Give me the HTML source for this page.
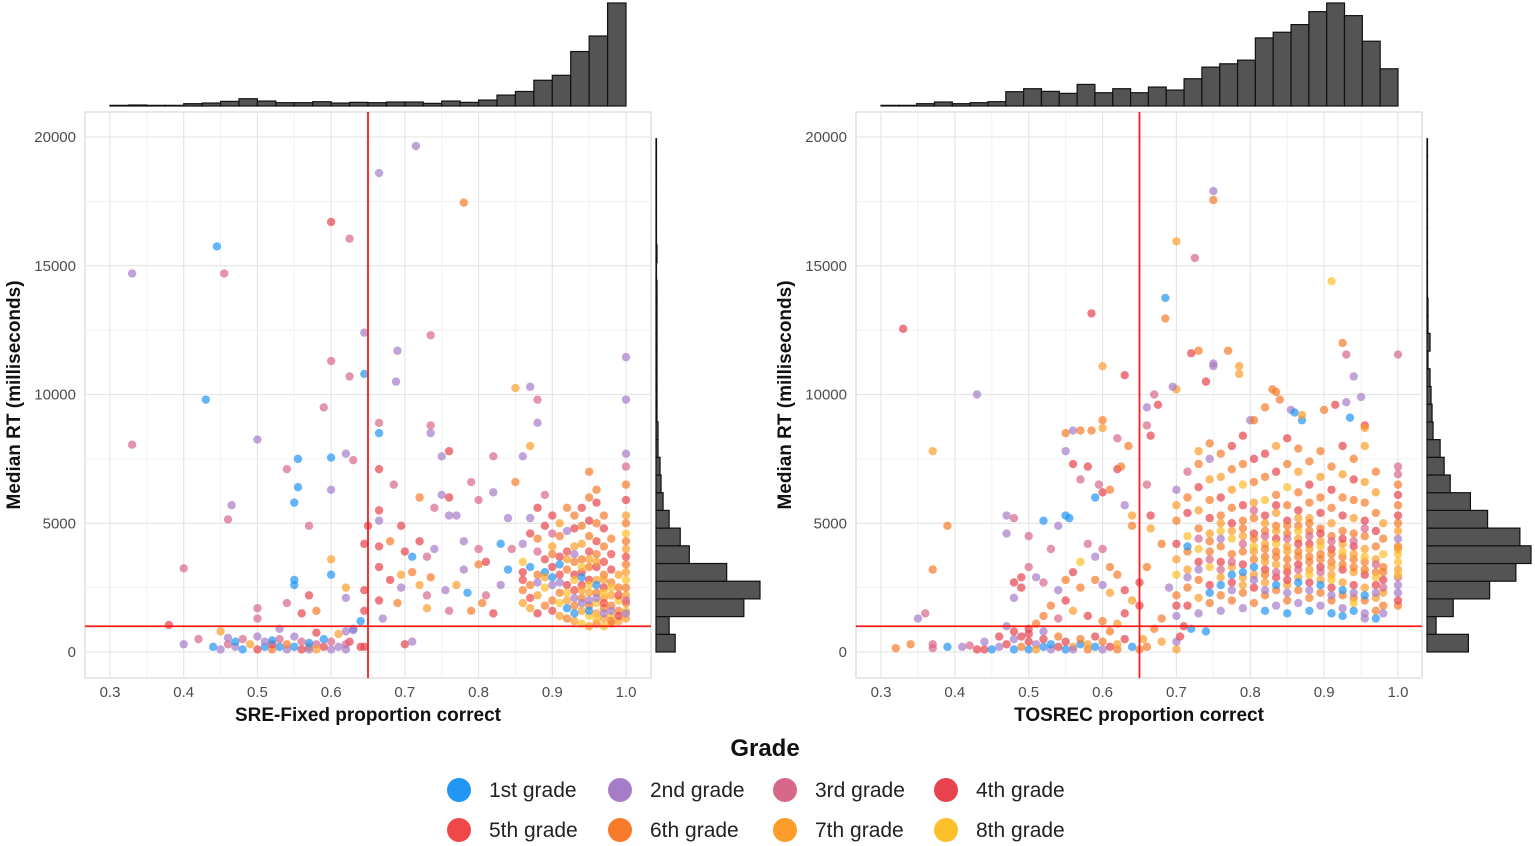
<!DOCTYPE html>
<html><head><meta charset="utf-8">
<style>
html,body{margin:0;padding:0;background:#fff;}
svg{display:block;font-family:"Liberation Sans",sans-serif;}
</style></head>
<body>
<svg id="chart" width="1535" height="846" viewBox="0 0 1535 846" xmlns="http://www.w3.org/2000/svg">
  <g id="leftPanel"></g>
  <g id="rightPanel"></g>
  <g id="legend">
    <text x="765" y="756" text-anchor="middle" font-size="24" font-weight="bold" fill="#111">Grade</text>
  </g>
</svg>
<script>
// ---- data ----
const gradeLabels = ["1st grade","2nd grade","3rd grade","4th grade","5th grade","6th grade","7th grade","8th grade"];
const gradeColors = ["#2196F3","#A57CC8","#D8688A","#E8434D","#F04848","#F77B2A","#FC9C2A","#FDBF2A"];
const xTicks = [0.3,0.4,0.5,0.6,0.7,0.8,0.9,1.0];
const xTickLabels = ["0.3","0.4","0.5","0.6","0.7","0.8","0.9","1.0"];
const yTicks = [0,5000,10000,15000,20000];
const yTickLabels = ["0","5000","10000","15000","20000"];
const cutX = 0.65;
const cutY = 1000;
const leftTopHist = [2,3,2,2,7,9,14,22,15,10,10,13,9,11,10,12,12,8,15,11,18,33,44,78,93,165,212,312];
const rightTopHist = [2,2,7,12,7,10,13,43,52,44,38,65,40,52,40,57,48,82,117,127,138,205,222,245,284,310,272,195,112];
const leftSideHist = [19,13,87,103,70,33,24,13,7,5,4,2,2,1,1,1,1,1,1,1,1,0.5,1,0.5,0.5,0.5,0.5,0.5,0.5];
const rightSideHist = [41,9,26,62,88,103,92,60,43,23,17,13,6,5,4,3,1,3,1,1,0.5,0.5,0.5,0.5,0.5,0.5,0.5,0.5,0.5];
// points grouped by proportion-correct value: [x, [[rt in thousands ms, grade], ...]]
const leftPoints = [
[0.33,[[14.7,2],[8.05,3]]],[0.445,[[15.75,1]]],[0.455,[[14.7,3]]],[0.43,[[9.8,1]]],[0.6,[[16.7,4],[11.3,3],[7.55,1],[6.3,2],[3.6,7],[3.0,1],[0.1,2],[0.4,3]]],
[0.625,[[16.05,3],[10.7,3],[0.4,4]]],[0.665,[[18.6,2],[8.9,3],[8.5,1],[7.1,4],[5.5,4],[3.3,4],[2.0,4],[4.1,4],[5.1,2]]],[0.715,[[19.65,2]]],[0.78,[[17.45,6]]],
[0.645,[[12.4,2],[10.8,1],[4.2,4],[2.4,4],[1.6,4],[0.2,4]]],[0.735,[[12.3,3],[8.8,3],[8.5,2],[2.9,6]]],[0.69,[[11.7,2],[1.9,6]]],[0.688,[[10.5,2]]],[0.59,[[9.5,3],[0.5,1],[0.2,4]]],
[0.5,[[8.25,2],[1.7,3],[1.3,3],[0.1,4],[0.6,2]]],[0.4,[[3.25,3],[0.3,2]]],[0.38,[[1.05,4]]],[0.555,[[7.5,1],[6.4,1]]],[0.62,[[7.7,2],[2.5,7],[2.1,2],[0.8,2],[0.3,3],[0.1,2]]],[0.63,[[7.45,3],[0.9,1],[0.85,2]]],
[0.54,[[7.1,3],[1.9,3],[0.1,2],[0.3,6]]],[0.465,[[5.7,2]]],[0.46,[[5.15,3],[0.3,3],[0.55,2]]],[0.55,[[5.8,1],[2.8,1],[2.6,1],[0.2,1],[0.6,2]]],
[0.7,[[0.3,4],[3.9,4]]],[0.685,[[6.5,3]]],[0.65,[[4.9,4]]],[0.67,[[1.3,2]]],[0.71,[[0.4,2],[3.7,1],[3.1,6]]],[0.695,[[2.5,2],[4.9,4],[3.0,7]]],[0.72,[[4.3,4],[2.6,7],[6.0,6]]],
[0.73,[[3.7,3],[1.7,7],[2.2,3]]],[0.74,[[5.6,3],[4.0,2]]],[0.75,[[6.1,2],[7.6,2]]],[0.76,[[5.3,2],[6.0,4],[7.8,4],[1.6,3]]],[0.77,[[5.3,2],[2.6,7]]],[0.78,[[4.3,2],[3.2,2]]],
[0.79,[[6.6,3],[1.6,6]]],[0.8,[[4.0,3],[5.9,3],[3.4,6]]],[0.82,[[6.2,2],[7.6,3],[1.5,4]]],[0.83,[[4.2,1],[2.6,2]]],[0.81,[[3.5,4],[2.2,3]]],[0.84,[[5.2,2],[3.2,1]]],
[0.845,[[4.0,3]]],[0.85,[[6.6,6],[10.25,7]]],[0.87,[[10.3,2],[8.0,7]]],[0.88,[[9.8,3],[8.9,2]]],[0.68,[[4.3,6],[2.8,4]]],[0.755,[[2.4,2]]],[0.785,[[2.3,1]]],[0.805,[[1.9,6]]],
[0.64,[[1.2,1]]],[0.58,[[1.6,6],[0.3,3],[0.1,7],[0.75,4]]],[0.57,[[2.2,4],[4.9,3],[0.2,6],[0.1,2],[0.35,1]]],[0.56,[[1.5,4],[0.1,4],[0.4,3]]],[0.53,[[0.9,2],[0.2,1],[0.5,3]]],
[0.42,[[0.5,3]]],[0.44,[[0.2,1]]],[0.45,[[0.1,2],[0.8,7]]],[0.47,[[0.2,2],[0.4,1]]],[0.48,[[0.1,1],[0.5,3]]],[0.49,[[0.3,7]]],[0.51,[[0.2,1],[0.4,2]]],[0.52,[[0.1,6],[0.3,4],[0.45,1]]],
[0.61,[[0.2,2],[0.7,7]]],[0.64,[[0.2,4]]],
[0.86,[[2.4,6],[3.1,4],[1.9,7],[4.2,2],[2.8,5],[3.5,8],[7.6,2]]],
[0.87,[[1.7,7],[2.6,6],[3.3,1],[4.6,4],[2.1,5],[5.2,2]]],
[0.88,[[3.0,6],[2.2,7],[1.5,4],[3.9,3],[4.4,6],[2.7,2],[5.6,4]]],
[0.89,[[3.6,5],[2.5,8],[1.8,6],[3.1,1],[4.9,4],[2.9,7],[6.1,3]]],
[0.9,[[2.0,6],[3.3,4],[4.1,7],[2.6,2],[1.6,5],[3.8,6],[5.3,4],[2.9,1],[4.6,3]]],
[0.91,[[1.4,7],[2.3,6],[3.0,5],[3.7,4],[4.5,6],[2.7,2],[5.0,7],[1.9,8],[3.4,1]]],
[0.92,[[1.3,6],[2.0,7],[2.6,4],[3.2,6],[3.9,5],[4.7,2],[2.3,8],[5.6,6],[1.7,1],[3.6,7]]],
[0.93,[[1.2,7],[1.8,6],[2.4,5],[3.0,4],[3.5,6],[4.1,7],[4.8,4],[2.1,2],[2.8,8],[5.3,6],[1.5,1],[3.8,2]]],
[0.94,[[1.1,8],[1.6,7],[2.1,6],[2.6,4],[3.1,5],[3.6,6],[4.2,7],[4.9,6],[1.9,2],[2.9,1],[5.6,4],[3.3,8],[2.4,7]]],
[0.95,[[1.0,7],[1.4,8],[1.8,6],[2.3,7],[2.8,4],[3.3,6],[3.9,5],[4.5,6],[5.1,4],[6.0,6],[2.0,2],[2.6,8],[3.6,7],[1.6,1],[7.0,6]]],
[0.96,[[1.1,6],[1.5,7],[1.9,8],[2.3,6],[2.8,7],[3.3,4],[3.8,6],[4.3,5],[5.0,6],[5.8,4],[2.1,2],[1.3,8],[2.6,1],[3.5,7],[6.3,6]]],
[0.97,[[1.0,8],[1.3,7],[1.7,6],[2.1,7],[2.5,4],[3.0,6],[3.5,5],[4.1,6],[4.8,4],[1.5,2],[2.3,8],[2.8,7],[5.3,6],[1.9,5]]],
[0.98,[[1.1,7],[1.4,8],[1.8,6],[2.2,7],[2.7,6],[3.2,4],[3.8,5],[4.4,6],[1.6,2],[2.5,8],[1.2,6]]],
[0.99,[[1.2,7],[1.6,6],[2.0,8],[2.5,6],[3.0,7],[1.4,4],[2.2,5]]],
[1.0,[[1.3,7],[1.6,8],[1.9,6],[2.2,7],[2.5,6],[2.8,8],[3.1,7],[3.4,6],[3.7,5],[4.0,7],[4.3,6],[4.6,8],[5.0,6],[5.3,7],[5.9,4],[6.5,6],[7.2,3],[7.7,2],[9.8,2],[11.45,2],[1.5,2],[2.0,3]]]
];
const rightPoints = [
[0.33,[[12.55,4]]],[0.43,[[10.0,2]]],[0.37,[[7.8,7],[3.2,6],[0.3,3],[0.15,3]]],[0.39,[[4.9,6],[0.2,1]]],[0.35,[[1.3,2]]],[0.36,[[1.5,3]]],[0.32,[[0.15,6]]],[0.34,[[0.3,6]]],
[0.585,[[13.15,4],[8.6,6]]],[0.75,[[17.9,2],[17.55,6],[11.2,2],[11.1,2]]],[0.7,[[15.95,7],[10.2,7],[2.2,6],[3.0,8],[3.6,7],[4.2,4],[5.1,6],[5.7,7],[6.3,2],[1.8,4],[1.4,2],[0.1,7],[0.4,2]]],
[0.725,[[15.3,3]]],[0.685,[[13.75,1],[12.95,6]]],[0.91,[[14.4,8]]],[0.925,[[12.0,6]]],[0.63,[[10.75,4],[5.7,2],[2.4,4],[1.5,4],[0.5,4]]],[0.6,[[11.1,7],[9.0,6],[8.7,7],[6.2,4],[4.0,3],[1.2,6],[2.6,2],[0.1,2],[0.4,6]]],
[0.73,[[11.7,6]]],[0.72,[[11.6,4],[0.9,1]]],[0.77,[[11.7,6]]],[0.785,[[11.1,7],[10.8,7]]],[0.74,[[10.5,4],[0.8,1]]],[0.695,[[10.3,2]]],[0.67,[[10.0,3],[0.9,6]]],[0.66,[[9.5,2],[8.8,3],[3.3,6],[6.5,3],[0.2,6]]],
[0.675,[[9.6,4]]],[0.55,[[8.5,6],[7.8,2],[5.3,1],[2.8,6],[2.0,4],[0.1,1],[0.4,4]]],[0.56,[[8.6,2],[7.3,4],[3.1,4],[1.6,7],[0.2,7],[0.1,2]]],[0.57,[[8.6,6],[6.7,3],[3.5,8],[2.5,6],[0.3,1],[0.5,6]]],
[0.62,[[8.3,3],[7.1,4],[3.0,6],[1.1,7],[0.1,6],[0.3,7]]],[0.635,[[8.0,6]]],[0.665,[[8.4,4],[4.8,7],[5.3,4]]],[0.83,[[10.2,6]]],[0.835,[[10.1,6]]],[0.84,[[9.8,6]]],
[0.855,[[9.4,2]]],[0.86,[[9.3,1]]],[0.87,[[9.0,1],[9.2,7]]],[0.9,[[9.4,6]]],[0.915,[[9.6,4]]],[0.93,[[9.7,2],[11.55,3]]],[0.935,[[9.1,1]]],[0.94,[[10.7,2]]],[0.95,[[9.9,2]]],[0.8,[[9.0,2]]],
[0.47,[[5.3,2],[4.6,2],[1.0,2],[0.3,4]]],[0.48,[[5.2,3],[2.7,4],[2.1,2],[0.1,1],[0.5,2],[0.8,4]]],[0.5,[[4.5,3],[3.3,3],[0.9,4],[0.1,1],[0.4,4],[0.7,4]]],[0.52,[[5.1,1],[2.7,3],[1.4,6],[0.2,1],[0.5,4],[0.8,2]]],
[0.53,[[4.0,3],[1.8,6],[0.1,2],[0.3,1]]],[0.54,[[4.9,2],[2.4,2],[1.3,3],[0.2,4],[0.6,6]]],[0.555,[[5.2,1]]],[0.58,[[7.2,4],[4.2,3],[1.4,4],[0.1,6],[0.3,7]]],[0.59,[[6.0,1],[3.7,2],[2.8,6],[0.2,1],[0.6,4]]],
[0.595,[[6.5,3]]],[0.61,[[6.3,6],[3.3,6],[2.3,7],[0.2,4],[0.8,6]]],[0.625,[[7.2,6]]],[0.64,[[4.9,6],[5.3,7],[2.0,7],[0.2,1]]],[0.65,[[1.8,4],[2.7,4],[0.1,6]]],[0.51,[[2.9,2],[1.1,6],[0.3,2],[0.1,7]]],
[0.49,[[2.9,4],[2.5,4],[0.2,6],[0.6,4]]],[0.68,[[4.2,6],[1.3,6],[0.4,7]]],[0.69,[[2.5,2]]],[0.71,[[1.0,4]]],[0.41,[[0.2,2]]],[0.42,[[0.25,3]]],[0.43,[[0.1,4]]],[0.44,[[0.1,4],[0.4,2]]],
[0.45,[[0.1,1]]],[0.46,[[0.2,2],[0.6,4]]],[0.655,[[0.5,7]]],[0.705,[[0.6,4]]],
[0.715,[[1.8,4],[2.5,6],[3.2,7],[3.9,6],[4.5,8],[5.4,4],[6.0,6],[7.0,3],[2.9,2],[4.1,1]]],
[0.73,[[1.5,2],[2.1,7],[2.8,6],[3.5,4],[4.0,8],[4.8,6],[5.5,7],[6.4,4],[7.3,6],[7.8,7],[3.2,2],[4.4,3]]],
[0.745,[[1.9,6],[2.6,4],[3.3,8],[3.9,6],[4.6,7],[5.2,4],[5.9,6],[6.7,7],[7.5,2],[8.1,6],[2.3,1],[3.6,3],[4.3,6]]],
[0.76,[[1.6,2],[2.2,6],[2.9,7],[3.5,4],[4.1,6],[4.7,8],[5.3,6],[6.0,4],[6.8,7],[7.7,6],[3.2,3],[4.4,2],[5.0,7],[2.6,1]]],
[0.775,[[2.0,6],[2.7,4],[3.3,7],[3.8,6],[4.4,8],[5.0,4],[5.6,6],[6.3,7],[7.1,6],[8.0,4],[2.4,2],[3.5,3],[4.7,7],[3.0,1]]],
[0.79,[[1.7,2],[2.3,6],[2.9,7],[3.4,4],[3.9,6],[4.5,7],[5.1,6],[5.7,4],[6.5,8],[7.3,6],[8.4,4],[3.1,1],[4.2,3],[4.8,6],[2.6,7]]],
[0.805,[[1.9,6],[2.5,4],[3.0,7],[3.6,6],[4.1,8],[4.6,4],[5.2,6],[5.8,7],[6.6,6],[7.5,4],[9.0,6],[2.8,2],[3.9,7],[4.4,6],[3.3,1],[5.5,3]]],
[0.82,[[1.6,1],[2.2,6],[2.7,7],[3.2,4],[3.7,6],[4.2,7],[4.7,6],[5.3,4],[5.9,8],[6.8,6],[7.7,4],[9.5,6],[2.4,2],[3.5,7],[4.0,6],[4.5,3],[5.0,7],[3.0,6]]],
[0.835,[[1.8,2],[2.4,6],[2.9,4],[3.4,7],[3.9,6],[4.4,4],[4.9,6],[5.4,7],[6.1,6],[7.0,4],[8.0,7],[2.6,1],[3.7,6],[4.2,8],[4.7,7],[3.1,3],[5.7,4]]],
[0.85,[[1.5,1],[2.0,6],[2.6,7],[3.1,4],[3.6,6],[4.1,7],[4.6,6],[5.1,4],[5.7,6],[6.4,8],[7.3,6],[8.3,4],[2.3,2],[3.3,6],[3.9,7],[4.4,3],[4.9,6],[2.8,4]]],
[0.865,[[1.9,2],[2.4,6],[2.9,7],[3.4,4],[3.9,6],[4.4,7],[4.9,6],[5.5,4],[6.2,6],[7.0,7],[7.9,6],[2.7,1],[3.7,6],[4.2,4],[4.7,8],[3.2,3],[5.2,7]]],
[0.88,[[1.6,1],[2.1,6],[2.7,4],[3.2,7],[3.7,6],[4.2,4],[4.7,6],[5.2,7],[5.8,6],[6.5,4],[7.4,6],[2.4,2],[3.5,6],[4.0,7],[4.5,3],[5.0,6],[3.0,8]]],
[0.895,[[1.8,2],[2.3,6],[2.8,7],[3.3,4],[3.8,6],[4.3,7],[4.8,6],[5.4,4],[6.0,6],[6.8,7],[7.8,6],[2.6,1],[3.6,6],[4.1,8],[4.6,4],[3.1,3]]],
[0.91,[[1.5,1],[2.0,6],[2.5,4],[3.0,7],[3.5,6],[4.0,4],[4.5,6],[5.0,7],[5.6,6],[6.3,4],[7.2,6],[2.2,2],[3.3,7],[3.8,6],[4.3,3],[2.8,8]]],
[0.925,[[1.7,2],[2.2,6],[2.7,7],[3.2,4],[3.7,6],[4.2,7],[4.7,6],[5.3,4],[6.0,6],[6.9,7],[8.0,4],[2.4,1],[3.4,6],[3.9,8],[4.4,4],[1.4,1]]],
[0.94,[[1.6,1],[2.1,6],[2.6,4],[3.1,7],[3.6,6],[4.1,4],[4.6,6],[5.2,7],[5.9,6],[6.7,4],[2.3,2],[3.3,6],[3.8,7],[4.3,3],[1.9,8],[7.5,6]]],
[0.955,[[1.5,2],[2.0,6],[2.5,7],[3.0,4],[3.5,6],[4.0,7],[4.5,6],[5.1,4],[5.8,6],[6.6,7],[2.2,1],[3.2,6],[3.7,8],[1.3,2],[4.8,3],[8.0,7],[8.8,4],[8.7,7]]],
[0.97,[[1.6,6],[2.1,7],[2.6,4],[3.1,6],[3.6,7],[4.1,6],[4.7,4],[5.4,6],[6.2,7],[2.3,2],[2.9,8],[3.4,3],[1.3,1],[7.0,6]]],
[0.98,[[1.8,6],[2.3,7],[2.8,4],[3.3,6],[3.8,8],[4.4,6],[5.0,7],[1.5,2],[2.5,3],[3.1,6]]],
[1.0,[[1.8,6],[2.0,4],[2.3,2],[2.6,2],[2.9,3],[3.2,7],[3.5,8],[3.8,8],[4.1,6],[4.4,2],[4.7,7],[5.0,6],[5.3,4],[5.7,6],[6.1,4],[6.5,6],[6.9,3],[7.2,3],[3.0,8],[4.0,7],[11.55,3]]]
];

// ---- drawing ----
const NS = "http://www.w3.org/2000/svg";
function el(tag, attrs, parent){
  const e = document.createElementNS(NS, tag);
  for (const k in attrs) e.setAttribute(k, attrs[k]);
  parent.appendChild(e);
  return e;
}
function drawPanel(g, cfg){
  const sx = v => cfg.x0 + (v - 0.3) / 0.7 * (cfg.x1 - cfg.x0);
  const sy = v => 652 - v / 20000 * (652 - 137);
  const bg = el("rect", {x:cfg.left, y:112, width:566, height:566, fill:"#fff", stroke:"#d9d9d9", "stroke-width":1.2}, g);
  
  
  for (let i = 0; i < xTicks.length - 1; i++){
    const xm = sx((xTicks[i] + xTicks[i+1]) / 2);
    el("line", {x1:xm, x2:xm, y1:112, y2:678, stroke:"#f1f1f1", "stroke-width":1}, g);
  }
  for (let i = 0; i < yTicks.length - 1; i++){
    const ym = sy((yTicks[i] + yTicks[i+1]) / 2);
    el("line", {x1:cfg.left, x2:cfg.left+566, y1:ym, y2:ym, stroke:"#f1f1f1", "stroke-width":1}, g);
  }
  xTicks.forEach((t, i) => {
    el("line", {x1:sx(t), x2:sx(t), y1:112, y2:678, stroke:"#e6e6e6", "stroke-width":1.2}, g);
    const tl = el("text", {x:sx(t), y:697, "text-anchor":"middle", "font-size":15, fill:"#4d4d4d"}, g);
    tl.textContent = xTickLabels[i];
    
    
  });
  yTicks.forEach((t, i) => {
    el("line", {x1:cfg.left, x2:cfg.left+566, y1:sy(t), y2:sy(t), stroke:"#e6e6e6", "stroke-width":1.2}, g);
    const tl = el("text", {x:cfg.left-9, y:sy(t)+5, "text-anchor":"end", "font-size":15, fill:"#4d4d4d"}, g);
    tl.textContent = yTickLabels[i];
    
    
  });
  const pts = el("g", {}, g);
  
  
  cfg.points.forEach(grp => {
    grp[1].forEach(p => {
      const c = el("circle", {cx:sx(grp[0]), cy:sy(p[0]*1000), r:4.2, fill:gradeColors[p[1]-1], "fill-opacity":0.7}, pts);
      
      
    });
  });
  const vl = el("line", {x1:sx(cutX), x2:sx(cutX), y1:112, y2:678, stroke:"#ff1a1a", "stroke-width":1.8}, g);
  
  
  const hl = el("line", {x1:cfg.left, x2:cfg.left+566, y1:sy(cutY), y2:sy(cutY), stroke:"#ff1a1a", "stroke-width":1.8}, g);
  
  
  const th = el("g", {}, g);
  
  
  const tmax = Math.max(...cfg.topHist);
  const bw = (cfg.x1 - cfg.x0) / cfg.topHist.length;
  cfg.topHist.forEach((v, i) => {
    const h = v / tmax * 103;
    const b = el("rect", {x:cfg.x0 + i*bw, y:106-h, width:bw, height:h, fill:"#545454", stroke:"#111", "stroke-width":1.2}, th);
    
    
  });
  const sh = el("g", {}, g);
  
  
  const smax = Math.max(...cfg.sideHist);
  const bh = 17.7;
  const hx = cfg.left + 571;
  cfg.sideHist.forEach((v, i) => {
    const w = v / smax * 104;
    const b = el("rect", {x:hx, y:652-(i+1)*bh, width:w, height:bh, fill:"#545454", stroke:"#111", "stroke-width":1.2}, sh);
    
    
  });
  const xt = el("text", {x:cfg.left+283, y:721, "text-anchor":"middle", "font-size":19, "font-weight":"bold", fill:"#111"}, g);
  xt.textContent = cfg.xTitle;
  
  
  const yx = cfg.left - 65, yy = 395;
  const yt = el("text", {x:yx, y:yy, "text-anchor":"middle", "font-size":19, "font-weight":"bold", fill:"#111", transform:"rotate(-90 "+yx+" "+yy+")"}, g);
  yt.textContent = "Median RT (milliseconds)";
  
  
}
drawPanel(document.getElementById("leftPanel"), {left:85, x0:110, x1:626, points:leftPoints, topHist:leftTopHist, sideHist:leftSideHist, xTitle:"SRE-Fixed proportion correct"});
drawPanel(document.getElementById("rightPanel"), {left:856, x0:881, x1:1398, points:rightPoints, topHist:rightTopHist, sideHist:rightSideHist, xTitle:"TOSREC proportion correct"});

const lg = document.getElementById("legend");
const legendX = [459, 620, 785, 946];
gradeLabels.forEach((lab, i) => {
  const row = Math.floor(i / 4), col = i % 4;
  const cy = 790 + row * 40;
  const item = el("g", {}, lg);
  
  
  el("circle", {cx:legendX[col], cy:cy, r:12, fill:gradeColors[i]}, item);
  const t = el("text", {x:legendX[col]+30, y:cy+7, "font-size":21, fill:"#222"}, item);
  t.textContent = lab;
});
</script>
</body></html>
